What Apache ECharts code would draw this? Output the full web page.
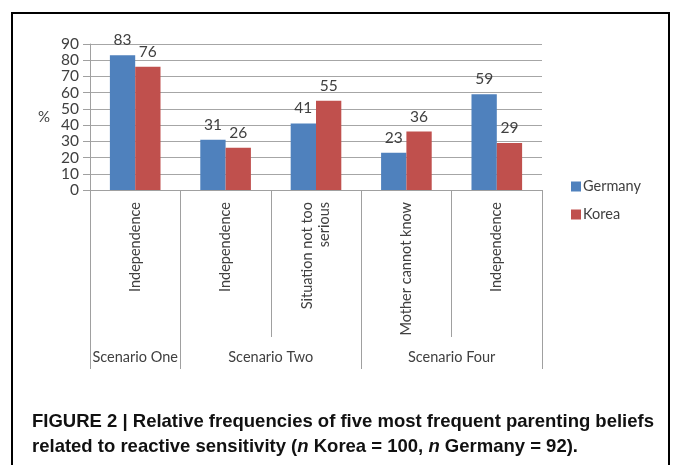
<!DOCTYPE html>
<html>
<head>
<meta charset="utf-8">
<script src="https://cdn.jsdelivr.net/npm/echarts@6/dist/echarts.min.js"></script>
<style>
html,body{margin:0;padding:0;background:#fff;}
#chart{width:673px;height:465px;}
</style>
</head>
<body>
<div id="chart"></div>
<script>
const categories = ['Independence', 'Independence', 'Situation not too\nserious', 'Mother cannot know', 'Independence'];
const groups = ['Scenario One', 'Scenario Two', 'Scenario Four'];
const groupSpans = [1, 2, 2];
const germany = [83, 31, 41, 23, 59];
const korea = [76, 26, 55, 36, 29];
const yTicks = [0, 90, 10];

// Build half-step slots for the group axis (boundaries + centres)
const slotCount = categories.length * 2 + 1;
const groupSlots = new Array(slotCount).fill('');
const boundarySlots = [0];
let pos = 0;
groups.forEach((g, i) => {
  const centre = pos + groupSpans[i];
  groupSlots[centre] = g;
  pos += groupSpans[i] * 2;
  boundarySlots.push(pos);
});

const chartFont = 'Lato, "Open Sans", sans-serif';
const capFont = '"Liberation Sans Narrow", "Liberation Sans", Arial, sans-serif';
const txt = '#404040';
const chart = echarts.init(document.getElementById('chart'), null, {renderer: 'canvas'});
chart.setOption({
  animation: false,
  color: ['#4f81bd', '#c0504d'],
  grid: {left: 90, right: 131, top: 44, bottom: 275, containLabel: false},
  legend: {
    orient: 'vertical', left: 566, top: 174,
    itemWidth: 10, itemHeight: 10, itemGap: 13, icon: 'rect',
    textStyle: {fontFamily: chartFont, fontSize: 14.5, color: txt, padding: [0, 0, 0, -3]},
    data: ['Germany', 'Korea']
  },
  xAxis: [{
    type: 'category', data: categories, position: 'bottom',
    axisLine: {lineStyle: {color: '#a0a0a0', width: 1}},
    axisTick: {show: true, length: 147, interval: 0, lineStyle: {color: '#a0a0a0'}},
    axisLabel: {rotate: 90, margin: 12, interval: 0, fontFamily: chartFont, fontSize: 14.5, color: txt, lineHeight: 17, align: 'right'}
  }, {
    type: 'category', data: groupSlots, position: 'bottom', offset: 147, boundaryGap: false,
    axisLine: {show: false},
    axisTick: {show: true, length: 32, interval: (i) => boundarySlots.includes(i), lineStyle: {color: '#a0a0a0'}},
    axisLabel: {interval: (i) => groupSlots[i] !== '', margin: 13, fontFamily: chartFont, fontSize: 14.5, color: txt}
  }],
  yAxis: {
    type: 'value', min: yTicks[0], max: yTicks[1], interval: yTicks[2],
    name: '%', nameLocation: 'middle', nameRotate: 0, nameGap: 40,
    nameTextStyle: {fontFamily: chartFont, fontSize: 15, color: txt},
    axisLine: {show: true, lineStyle: {color: '#a0a0a0'}},
    axisTick: {show: true, length: 7, lineStyle: {color: '#a0a0a0'}},
    axisLabel: {margin: 11, fontFamily: chartFont, fontSize: 15.5, color: txt},
    splitLine: {lineStyle: {color: '#a6a6a6'}}
  },
  series: [{
    name: 'Germany', type: 'bar', data: germany, barGap: '0%', barCategoryGap: '44%',
    label: {show: true, position: 'top', distance: 7, fontFamily: chartFont, fontSize: 15.5, color: txt}
  }, {
    name: 'Korea', type: 'bar', data: korea, barGap: '0%', barCategoryGap: '44%',
    label: {show: true, position: 'top', distance: 7, fontFamily: chartFont, fontSize: 15.5, color: txt}
  }],
  title: {
    left: 32, top: 409, padding: 0,
    text: '{b|FIGURE 2 | Relative frequencies of five most frequent parenting beliefs}\n{b|related to reactive sensitivity (}{i|n}{b| Korea = 100, }{i|n}{b| Germany = 92).}',
    textStyle: {
      lineHeight: 25,
      rich: {
        b: {fontFamily: capFont, fontWeight: 'bold', fontSize: 18.5, color: '#111', lineHeight: 25},
        i: {fontFamily: capFont, fontWeight: 'bold', fontStyle: 'italic', fontSize: 18.5, color: '#111', lineHeight: 25}
      }
    }
  },
  graphic: [{
    type: 'rect', silent: true,
    shape: {x: 12, y: 13, width: 657, height: 480},
    style: {fill: 'none', stroke: '#000', lineWidth: 2}
  }]
});
</script>
</body>
</html>
